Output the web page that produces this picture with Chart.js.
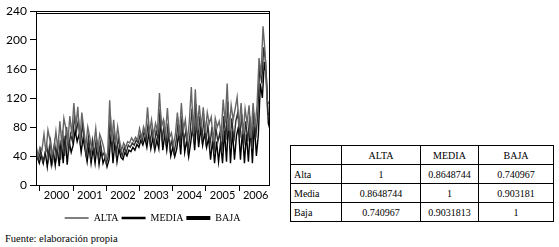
<!DOCTYPE html>
<html>
<head>
<meta charset="utf-8">
<script src="https://cdn.jsdelivr.net/npm/chart.js@4.4.1/dist/chart.umd.min.js"></script>
<style>
  body { margin: 0; background: #fff; width: 559px; height: 247px; position: relative; overflow: hidden; }
  #wrap { position: absolute; left: 0; top: 0; width: 280px; height: 233px; }
  #fuente { position: absolute; left: 5px; top: 233px; font: 10.5px "Liberation Serif", "DejaVu Serif", serif; color: #000; }
  #corr { position: absolute; left: 290px; top: 145px; width: 263px; table-layout: fixed; border-collapse: collapse; font: 10px "Liberation Serif", "DejaVu Serif", serif; color: #000; }
  #corr td { border: 1px solid #000; padding: 0 3px; height: 18px; text-align: center; overflow: hidden; white-space: nowrap; }
  #corr td.rl { text-align: left; }
</style>
</head>
<body>
<div id="wrap"><canvas id="chart" width="280" height="233"></canvas></div>
<table id="corr"></table>
<div id="fuente">Fuente: elaboración propia</div>
<script>
// series, one value about every three weeks
const years = ["2000", "2001", "2002", "2003", "2004", "2005", "2006"];
const startYear = 1999.88;
const stepYear = 0.06;
const yTicks = [0, 40, 80, 120, 160, 200, 240];

const alta = [
  55, 40, 52, 48, 70, 45, 76, 62, 42, 50,
  74, 48, 88, 55, 92, 78, 60, 95, 70, 113,
  80, 108, 60, 100, 78, 52, 80, 66, 48, 55,
  78, 45, 70, 62, 52, 35, 45, 117, 60, 90,
  55, 80, 60, 48, 58, 52, 60, 58, 65, 60,
  66, 62, 78, 65, 80, 70, 107, 72, 90, 68,
  85, 75, 127, 80, 90, 70, 106, 65, 72, 55,
  70, 100, 68, 113, 75, 90, 60, 88, 135, 70,
  132, 75, 110, 80, 107, 72, 100, 85, 94, 60,
  92, 80, 88, 70, 118, 85, 140, 75, 110, 90,
  105, 121, 80, 113, 70, 105, 85, 110, 65, 113,
  80, 110, 175, 150, 219, 184, 117, 112
];
const media = [
  45, 35, 48, 32, 40, 55, 36, 60, 33, 58,
  38, 62, 35, 75, 40, 80, 45, 70, 60, 95,
  75, 90, 55, 85, 60, 40, 65, 38, 62, 42,
  65, 38, 58, 40, 45, 30, 40, 95, 45, 75,
  42, 65, 48, 40, 52, 45, 55, 52, 58, 55,
  62, 58, 70, 60, 75, 62, 85, 58, 78, 55,
  75, 62, 105, 60, 82, 55, 85, 50, 62, 45,
  60, 85, 55, 95, 60, 75, 48, 70, 105, 60,
  112, 62, 95, 65, 90, 60, 82, 55, 80, 45,
  78, 60, 72, 45, 95, 62, 115, 55, 92, 60,
  88, 100, 65, 98, 55, 88, 60, 95, 50, 100,
  65, 95, 165, 140, 190, 170, 100, 95
];
const baja = [
  38, 30, 42, 30, 45, 25, 50, 28, 48, 27,
  52, 26, 62, 30, 68, 28, 60, 45, 55, 75,
  60, 70, 45, 65, 48, 32, 55, 30, 50, 30,
  55, 28, 48, 30, 38, 25, 35, 70, 30, 60,
  32, 50, 38, 35, 45, 40, 48, 46, 52, 48,
  56, 52, 62, 55, 65, 52, 72, 50, 65, 48,
  62, 50, 90, 48, 70, 48, 72, 40, 52, 39,
  50, 72, 42, 85, 45, 62, 39, 58, 80, 48,
  90, 52, 78, 55, 72, 52, 65, 35, 62, 30,
  60, 32, 58, 30, 75, 32, 90, 30, 75, 35,
  68, 80, 35, 75, 30, 70, 32, 80, 30, 85,
  40, 70, 140, 120, 170, 150, 85, 75
];

const seriesNames = ["ALTA", "MEDIA", "BAJA"];
const seriesColors = ["#666666", "#2e2e2e", "#000000"];
const seriesShift = [0, 0.02, 0.04];
const legendWidths = [1, 2.5, 4];

const corrHeads = ["ALTA", "MEDIA", "BAJA"];
const corrRows = ["Alta", "Media", "Baja"];
const corrValues = [
  ["1", "0.8648744", "0.740967"],
  ["0.8648744", "1", "0.903181"],
  ["0.740967", "0.9031813", "1"]
];
const colWidths = [51, 79, 58, 75];

// correlation table
let tbl = document.getElementById("corr");
let html = "<colgroup>" + colWidths.map(w => "<col style='width:" + w + "px'>").join("") + "</colgroup>";
html += "<tr><td></td>" + corrHeads.map(h => "<td>" + h + "</td>").join("") + "</tr>";
corrRows.forEach((r, i) => {
  html += "<tr><td class='rl'>" + r + "</td>";
  corrValues[i].forEach(v => { html += "<td>" + v + "</td>"; });
  html += "</tr>";
});
tbl.innerHTML = html;

function toPoints(arr, shift) {
  return arr.map((v, i) => ({ x: startYear + shift + i * stepYear, y: v }));
}

const frame = {
  id: "frame",
  afterDatasetsDraw(chart) {
    const a = chart.chartArea;
    const c = chart.ctx;
    c.save();
    c.strokeStyle = "#000";
    c.lineWidth = 1;
    c.strokeRect(a.left + 0.5, a.top + 0.5, a.right - a.left, a.bottom - a.top);
    c.beginPath();
    c.moveTo(a.left, a.top + 2.5);
    c.lineTo(a.right, a.top + 2.5);
    c.stroke();
    c.restore();
  }
};

let ctx = document.getElementById("chart").getContext("2d");
new Chart(ctx, {
  type: "line",
  data: {
    datasets: [
      { label: seriesNames[0], data: toPoints(alta, seriesShift[0]), borderColor: seriesColors[0] },
      { label: seriesNames[1], data: toPoints(media, seriesShift[1]), borderColor: seriesColors[1] },
      { label: seriesNames[2], data: toPoints(baja, seriesShift[2]), borderColor: seriesColors[2] }
    ]
  },
  options: {
    responsive: false,
    animation: false,
    layout: { padding: { left: 0, right: 11, top: 11, bottom: 0 } },
    elements: { point: { radius: 0 }, line: { borderWidth: 1.4, tension: 0 } },
    scales: {
      x: {
        type: "linear",
        min: startYear,
        max: startYear + (alta.length - 1) * stepYear,
        afterBuildTicks: s => {
          let t = [];
          years.forEach(y => { t.push({ value: +y }); t.push({ value: +y + 0.5 }); });
          s.ticks = t;
        },
        afterFit: s => { s.height = 25; },
        grid: {
          drawOnChartArea: false,
          tickLength: 6,
          color: c => (c.tick && c.tick.value % 1 === 0) ? "#000" : "rgba(0,0,0,0)"
        },
        border: { color: "#000" },
        ticks: {
          autoSkip: false,
          maxRotation: 0,
          padding: -2,
          color: "#000",
          font: { family: "Lato", size: 11 },
          callback: v => (v % 1 !== 0) ? years[Math.floor(v) - 2000] : ""
        }
      },
      y: {
        min: 0,
        max: 240,
        afterBuildTicks: s => { s.ticks = yTicks.map(v => ({ value: v })); },
        afterFit: s => { s.width = 36; },
        grid: { drawOnChartArea: false, tickLength: 6, color: "#000" },
        border: { color: "#000" },
        ticks: { padding: 3, color: "#000", font: { family: "Lato", size: 12 } }
      }
    },
    plugins: {
      tooltip: { enabled: false },
      legend: {
        position: "bottom",
        fullSize: false,
        labels: {
          usePointStyle: true,
          pointStyleWidth: 24,
          padding: 3,
          color: "#000",
          font: { family: "Liberation Serif", size: 10 },
          generateLabels: chart => chart.data.datasets.map((d, i) => ({
            text: d.label,
            pointStyle: "line",
            strokeStyle: "#000",
            fillStyle: "#000",
            lineWidth: legendWidths[i],
            datasetIndex: i
          }))
        }
      }
    }
  },
  plugins: [frame]
});
</script>
</body>
</html>
